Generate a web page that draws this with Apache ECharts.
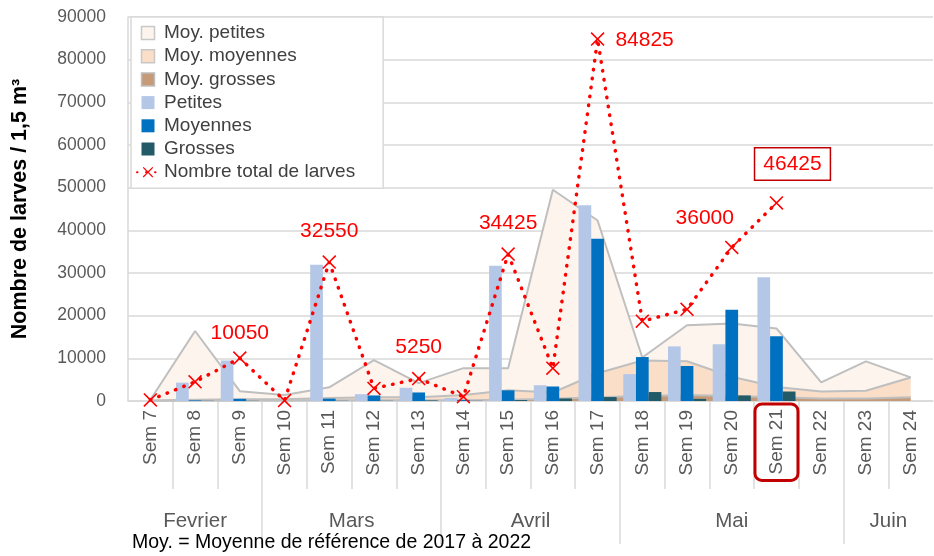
<!DOCTYPE html>
<html>
<head>
<meta charset="utf-8">
<script src="https://cdn.jsdelivr.net/npm/echarts@6/dist/echarts.min.js"></script>
<style>
html, body { margin: 0; padding: 0; background: #fff; }
#chart { width: 934px; height: 556px; }
</style>
</head>
<body>
<div id="chart"></div>
<script>
var weeks = ['Sem 7', 'Sem 8', 'Sem 9', 'Sem 10', 'Sem 11', 'Sem 12', 'Sem 13', 'Sem 14', 'Sem 15',
	'Sem 16', 'Sem 17', 'Sem 18', 'Sem 19', 'Sem 20', 'Sem 21', 'Sem 22', 'Sem 23', 'Sem 24'];
var months = ['Fevrier', 'Mars', 'Avril', 'Mai', 'Juin'];
var monthSpans = [3, 4, 4, 5, 2];

// moyennes de reference 2017-2022
var moyPetites = [300, 16400, 2300, 1400, 3200, 9600, 4200, 7700, 7650, 49500, 42300, 10200, 17750, 18150, 17000, 4350, 9300, 5550];
var moyMoyennes = [100, 300, 400, 400, 700, 900, 900, 1400, 2500, 2000, 6500, 9500, 9300, 5700, 3300, 2200, 2400, 5500];
var moyGrosses = [50, 100, 100, 100, 150, 200, 200, 200, 300, 500, 900, 1200, 1400, 1200, 900, 600, 600, 900];

// annee en cours
var petites = [0, 4300, 9500, 0, 31950, 1600, 3100, 700, 31700, 3700, 45900, 6300, 12800, 13300, 29000, null, null, null];
var moyennes = [0, 150, 500, 0, 550, 1300, 2000, 250, 2500, 3400, 38000, 10300, 8200, 21400, 15200, null, null, null];
var grosses = [0, 50, 50, 0, 50, 50, 150, 50, 225, 600, 925, 2100, 500, 1300, 2225, null, null, null];
var totals = [250, 4500, 10050, 100, 32550, 2950, 5250, 1000, 34425, 7700, 84825, 18700, 21500, 36000, 46425, null, null, null];

var yTicks = [0, 10000, 20000, 30000, 40000, 50000, 60000, 70000, 80000, 90000];
var labelled = [2, 4, 6, 8, 10, 13, 14];
var labelOffsets = [[0, -25], [0, -31], [0, -31], [0, -31], [47, 1], [-27, -29], [16, -39]];
var highlightWeek = 'Sem 21';

var GRAY = '#D9D9D9';
var TXT = '#595959';
var FONT = '"Liberation Sans", Arial, sans-serif';
var square = 'path://M0,0h10v10h-10z';
var cross = 'path://M0,1.6L1.6,0L10,8.4L18.4,0L20,1.6L11.6,10L20,18.4L18.4,20L10,11.6L1.6,20L0,18.4L8.4,10Z';

// limites et centres des mois sur l'axe
var bounds = [], centers = [], acc = 0;
for (var i = 0; i < monthSpans.length; i++) {
	centers.push(acc + monthSpans[i] / 2);
	acc += monthSpans[i];
	if (i < monthSpans.length - 1) bounds.push(acc);
}
var inner = [];
for (var k = 1; k < weeks.length; k++) {
	if (bounds.indexOf(k) < 0) inner.push(k);
}

var weekData = weeks.map(function(w) {
	if (w !== highlightWeek) return w;
	return {
		value: w,
		textStyle: {
			borderColor: '#C00000', borderWidth: 3, borderRadius: 7,
			padding: [12, 5, 12, 6]
		}
	};
});

var totalData = totals.map(function(v, i) {
	var p = labelled.indexOf(i);
	if (p < 0 || v == null) return v;
	var lab = { show: true, position: 'inside', offset: labelOffsets[p] };
	if (i === 14) {
		lab.backgroundColor = '#fff';
		lab.borderColor = '#C00000';
		lab.borderWidth = 1.5;
		lab.padding = [6, 8, 4, 8];
	}
	return { value: v, label: lab };
});

function areaSeries(name, data, fill, z) {
	return {
		name: name, type: 'line', data: data, symbol: 'none', z: z,
		lineStyle: { color: '#BFBFBF', width: 2 },
		areaStyle: { color: fill, opacity: 1 },
		silent: true
	};
}

function barSeries(name, data, color) {
	return {
		name: name, type: 'bar', data: data, barWidth: 12.7, barGap: '0%', z: 3,
		itemStyle: { color: color }
	};
}

var myChart = echarts.init(document.getElementById('chart'), null, { renderer: 'canvas' });
var option = {
	animation: false,
	backgroundColor: '#fff',
	textStyle: { fontFamily: FONT },
	title: {
		text: 'Moy. = Moyenne de référence de 2017 à 2022',
		left: 132, top: 533, padding: 0,
		textStyle: { fontSize: 19.5, fontWeight: 'normal', color: '#000', fontFamily: FONT }
	},
	grid: { left: 128, right: 1, top: 17, bottom: 155 },
	legend: {
		orient: 'vertical', left: 131, top: 17,
		padding: [6, 28, 6, 5],
		backgroundColor: '#fff', borderColor: GRAY, borderWidth: 1.5,
		itemWidth: 22, itemHeight: 13, itemGap: 3.2,
		textStyle: { fontSize: 19, color: '#404040', lineHeight: 20, fontFamily: FONT },
		data: [
			{ name: 'Moy. petites', icon: square, itemStyle: { color: '#FDF4ED', borderColor: '#C8C8C8', borderWidth: 1.5 } },
			{ name: 'Moy. moyennes', icon: square, itemStyle: { color: '#FADEC8', borderColor: '#C8C8C8', borderWidth: 1.5 } },
			{ name: 'Moy. grosses', icon: square, itemStyle: { color: '#C49A78', borderColor: '#BFBFBF', borderWidth: 1.5 } },
			{ name: 'Petites', icon: square, itemStyle: { color: '#B4C7E7' } },
			{ name: 'Moyennes', icon: square, itemStyle: { color: '#0070C0' } },
			{ name: 'Grosses', icon: square, itemStyle: { color: '#225B67' } },
			{ name: 'Nombre total de larves' }
		]
	},
	xAxis: [
		{
			type: 'category', data: weekData, position: 'bottom',
			axisLine: { lineStyle: { color: GRAY, width: 1.5 } },
			axisTick: { show: false },
			axisLabel: {
				interval: 0, rotate: 90, margin: 3, padding: [0, 6, 0, 0],
				fontSize: 19, color: TXT, fontFamily: FONT
			}
		},
		{
			type: 'value', min: 0, max: weeks.length, position: 'bottom',
			axisLine: { show: false }, splitLine: { show: false },
			axisTick: { show: true, length: 88, customValues: inner, lineStyle: { color: GRAY, width: 1.5 } },
			axisLabel: { show: false }
		},
		{
			type: 'value', min: 0, max: weeks.length, position: 'bottom',
			axisLine: { show: false }, splitLine: { show: false },
			axisTick: { show: true, length: 143, customValues: bounds, lineStyle: { color: GRAY, width: 1.5 } },
			axisLabel: {
				show: true, customValues: centers, margin: 110,
				fontSize: 20.5, color: TXT, fontFamily: FONT,
				formatter: function(v) {
					for (var j = 0; j < centers.length; j++) {
						if (Math.abs(centers[j] - v) < 1e-6) return months[j];
					}
					return '';
				}
			}
		}
	],
	yAxis: {
		type: 'value', min: yTicks[0], max: yTicks[yTicks.length - 1], interval: yTicks[1] - yTicks[0],
		name: 'Nombre de larves / 1,5 m³', nameLocation: 'middle', nameGap: 97,
		nameTextStyle: { fontSize: 21.5, fontWeight: 'bold', color: '#000', fontFamily: FONT },
		axisLine: { show: true, lineStyle: { color: GRAY, width: 1.5 } },
		axisTick: { show: false },
		axisLabel: {
			margin: 22, fontSize: 17.5, color: TXT, fontFamily: FONT,
			formatter: function(v) { return String(v); }
		},
		splitLine: { lineStyle: { color: GRAY, width: 1.5 } }
	},
	series: [
		areaSeries('Moy. petites', moyPetites, '#FDF4ED', 1),
		areaSeries('Moy. moyennes', moyMoyennes, '#FADEC8', 1),
		areaSeries('Moy. grosses', moyGrosses, '#C49A78', 1),
		barSeries('Petites', petites, '#B4C7E7'),
		barSeries('Moyennes', moyennes, '#0070C0'),
		barSeries('Grosses', grosses, '#225B67'),
		{
			name: 'Nombre total de larves', type: 'line', data: totalData, z: 5,
			symbol: cross, symbolSize: 14, showAllSymbol: true,
			itemStyle: { color: '#FF0000', borderWidth: 0 },
			lineStyle: { color: '#FF0000', width: 3.5, type: [0.5, 8.5], cap: 'round' },
			label: { show: false, color: '#FF0000', fontSize: 21, fontFamily: FONT },
			connectNulls: false
		}
	]
};
myChart.setOption(option);
</script>
</body>
</html>
